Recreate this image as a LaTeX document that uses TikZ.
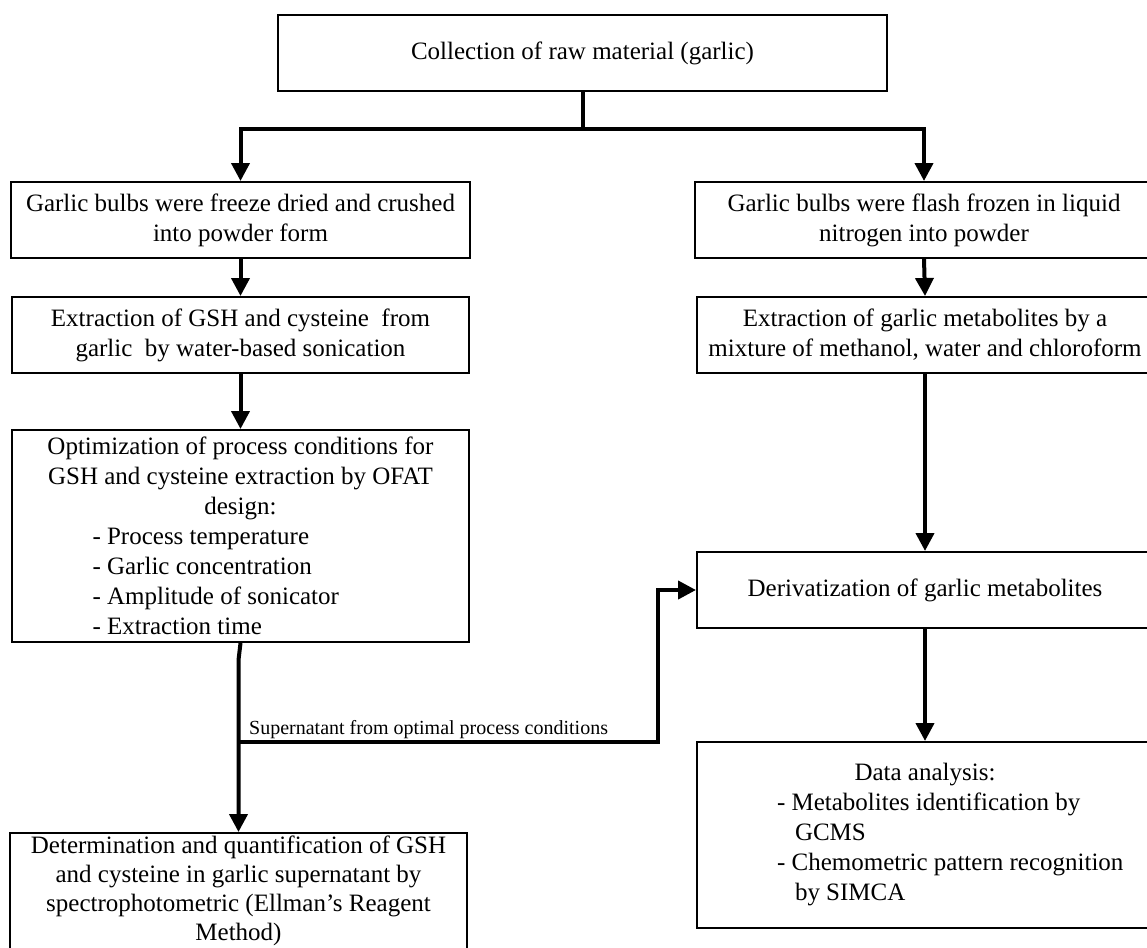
\documentclass[tikz,border=0pt]{standalone}
\usepackage{fontspec}
\setmainfont{Liberation Serif}
\usetikzlibrary{arrows.meta}
\begin{document}
\begin{tikzpicture}[x=1pt,y=-1pt,
  box/.style={draw, line width=2pt, inner sep=0pt, align=center,
    font=\fontsize{25}{30}\selectfont},
  conn/.style={line width=4pt},
  arr/.style={conn, -{Triangle[width=18pt,length=18pt]}},
  lbl/.style={font=\fontsize{20}{24}\selectfont, inner sep=0pt}]
\useasboundingbox (0,0) rectangle (1147,947);
\clip (0,0) rectangle (1147,947);
\fill[white] (0,0) rectangle (1147,947);

% boxes
\node[box, minimum width=609, minimum height=76] (top) at (582.5,53)
  {Collection of raw material (garlic)};
\node[box, minimum width=459, minimum height=76] (L1) at (240.5,220)
  {Garlic bulbs were freeze dried and crushed\\into powder form};
\node[box, minimum width=457, minimum height=76] (L2) at (240.5,335)
  {Extraction of GSH and cysteine\ \ from\\garlic\ \ by water-based sonication};
\node[box, minimum width=457, minimum height=212] (L3) at (240.5,536)
  {\begin{minipage}{440pt}\centering
   Optimization of process conditions for\\
   GSH and cysteine extraction by OFAT\\
   design:\par\raggedright
   \hspace*{72pt}- Process temperature\\
   \hspace*{72pt}- Garlic concentration\\
   \hspace*{72pt}- Amplitude of sonicator\\
   \hspace*{72pt}- Extraction time\end{minipage}};
\node[box, minimum width=457, minimum height=116, font=\fontsize{25}{29}\selectfont] (L4) at (238.5,891)
  {Determination and quantification of GSH\\
   and cysteine in garlic supernatant by\\
   spectrophotometric (Ellman’s Reagent\\
   Method)};
\node[box, minimum width=458, minimum height=76] (R1) at (924,220)
  {Garlic bulbs were flash frozen in liquid\\nitrogen into powder};
\node[box, minimum width=456, minimum height=76] (R2) at (925,335)
  {Extraction of garlic metabolites by a\\mixture of methanol, water and chloroform};
\node[box, minimum width=456, minimum height=76] (R3) at (925,590)
  {Derivatization of garlic metabolites};
\node[box, minimum width=456, minimum height=186] (R4) at (925,835)
  {\begin{minipage}{440pt}\centering
   Data analysis:\par\raggedright
   \hspace*{72pt}- Metabolites identification by\\
   \hspace*{90pt}GCMS\\
   \hspace*{72pt}- Chemometric pattern recognition\\
   \hspace*{90pt}by SIMCA\end{minipage}};

% connectors
\coordinate (j) at (582.5,129);
\draw[conn] (top.south) -- (j);
\draw[arr] (j) -| (L1.north);
\draw[arr] (j) -| (R1.north);
\draw[arr] (L1.south) -- (L2.north);
\draw[arr] (L2.south) -- (L3.north);
\draw[arr] (R1.south) -- (R2.north);
\draw[arr] (R2.south) -- (R3.north);
\draw[arr] (R3.south) -- (R4.north);

\coordinate (bend) at (238.5,660);
\coordinate (br) at (238.5,742);
\coordinate (up) at (658,742);
\draw[arr] (L3.south) -- (bend) -- (L4.north);
\draw[arr] (br) -- (up) |- (R3.west);
\node[lbl, anchor=base west] (sup) at (249,734)
  {Supernatant from optimal process conditions};
\end{tikzpicture}
\end{document}
